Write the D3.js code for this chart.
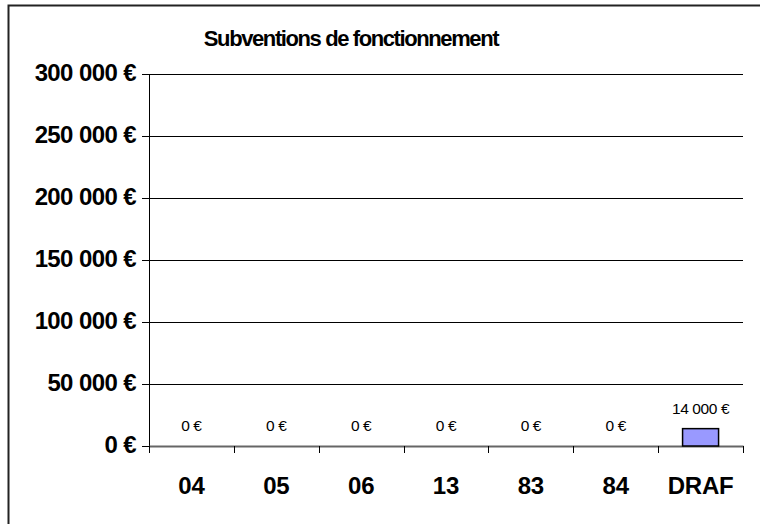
<!DOCTYPE html>
<html>
<head>
<meta charset="utf-8">
<script src="https://cdn.jsdelivr.net/npm/d3@7"></script>
<style>
  body { margin: 0; background: #fff; }
  text { font-family: "Liberation Sans", Arial, sans-serif; }
</style>
</head>
<body>
<div id="chart"></div>
<script>
// data
const categories = ["04", "05", "06", "13", "83", "84", "DRAF"];
const values = [0, 0, 0, 0, 0, 0, 14000];
const yTicks = [0, 50000, 100000, 150000, 200000, 250000, 300000];

const width = 760, height = 524;
const margin = { top: 74, right: 17, bottom: 78, left: 149 };

const fmt = n => d3.format(",")(n).replace(/,/g, "\u00a0") + "\u00a0€";

const svg = d3.select("#chart").append("svg")
  .attr("width", width)
  .attr("height", height);

// outer frame (runs past the right and bottom edges)
svg.append("rect")
  .attr("x", 8.5).attr("y", 5.5)
  .attr("width", 900).attr("height", 700)
  .attr("fill", "none")
  .attr("stroke", "#222")
  .attr("stroke-width", 2);

const x = d3.scaleBand()
  .domain(categories)
  .range([margin.left, width - margin.right]);

const y = d3.scaleLinear()
  .domain([0, 300000])
  .range([height - margin.bottom, margin.top]);

// y axis labels + tick marks
const yAxis = svg.append("g")
  .attr("transform", `translate(${margin.left},0)`)
  .call(d3.axisLeft(y).tickValues(yTicks).tickSize(7).tickFormat(fmt));
yAxis.select(".domain").remove();
yAxis.selectAll(".tick line").attr("stroke", "#000");
yAxis.selectAll(".tick text")
  .attr("x", -13)
  .attr("dy", "0.27em")
  .attr("font-size", 24)
  .attr("font-weight", "bold")
  .attr("letter-spacing", -0.6)
  .attr("fill", "#000");

// gridlines
svg.append("g")
  .selectAll("line")
  .data(yTicks.filter(d => d > 0))
  .join("line")
  .attr("x1", margin.left).attr("x2", width - margin.right)
  .attr("y1", d => Math.round(y(d)) + 0.5).attr("y2", d => Math.round(y(d)) + 0.5)
  .attr("stroke", "#000");

svg.append("line")
  .attr("x1", margin.left + 0.5).attr("x2", margin.left + 0.5)
  .attr("y1", y(300000)).attr("y2", y(0))
  .attr("stroke", "#000");

// x axis
const xAxis = svg.append("g")
  .attr("transform", `translate(0,${y(0)})`)
  .call(d3.axisBottom(x).tickSize(0).tickPadding(0));
xAxis.select(".domain").attr("stroke", "#666").attr("stroke-width", 2);
xAxis.selectAll(".tick text")
  .attr("y", 48)
  .attr("dy", 0)
  .attr("font-size", 24)
  .attr("font-weight", "bold")
  .attr("letter-spacing", -0.2)
  .attr("fill", "#000");

// tick marks between categories
svg.append("g")
  .selectAll("line")
  .data(categories.map(c => x(c)).concat([x.range()[1]]))
  .join("line")
  .attr("x1", d => Math.round(d) + 0.5).attr("x2", d => Math.round(d) + 0.5)
  .attr("y1", y(0)).attr("y2", y(0) + 7)
  .attr("stroke", "#000");

// bars
const barW = 36;
svg.append("g")
  .selectAll("rect")
  .data(values.map((v, i) => ({ cat: categories[i], v })).filter(d => d.v > 0))
  .join("rect")
  .attr("x", d => x(d.cat) + (x.bandwidth() - barW) / 2)
  .attr("y", d => y(d.v))
  .attr("width", barW)
  .attr("height", d => y(0) - y(d.v))
  .attr("fill", "#9999ff")
  .attr("stroke", "#000")
  .attr("stroke-width", 1.5);

// value labels
svg.append("g")
  .selectAll("text")
  .data(values.map((v, i) => ({ cat: categories[i], v })))
  .join("text")
  .attr("x", d => x(d.cat) + x.bandwidth() / 2)
  .attr("y", d => y(d.v) - 15)
  .attr("text-anchor", "middle")
  .attr("font-size", 15.5)
  .attr("letter-spacing", -0.4)
  .attr("fill", "#000")
  .text(d => fmt(d.v));

// title
svg.append("text")
  .attr("x", 351)
  .attr("y", 46)
  .attr("text-anchor", "middle")
  .attr("font-size", 22)
  .attr("font-weight", "bold")
  .attr("letter-spacing", -1.4)
  .text("Subventions de fonctionnement");
</script>
</body>
</html>
